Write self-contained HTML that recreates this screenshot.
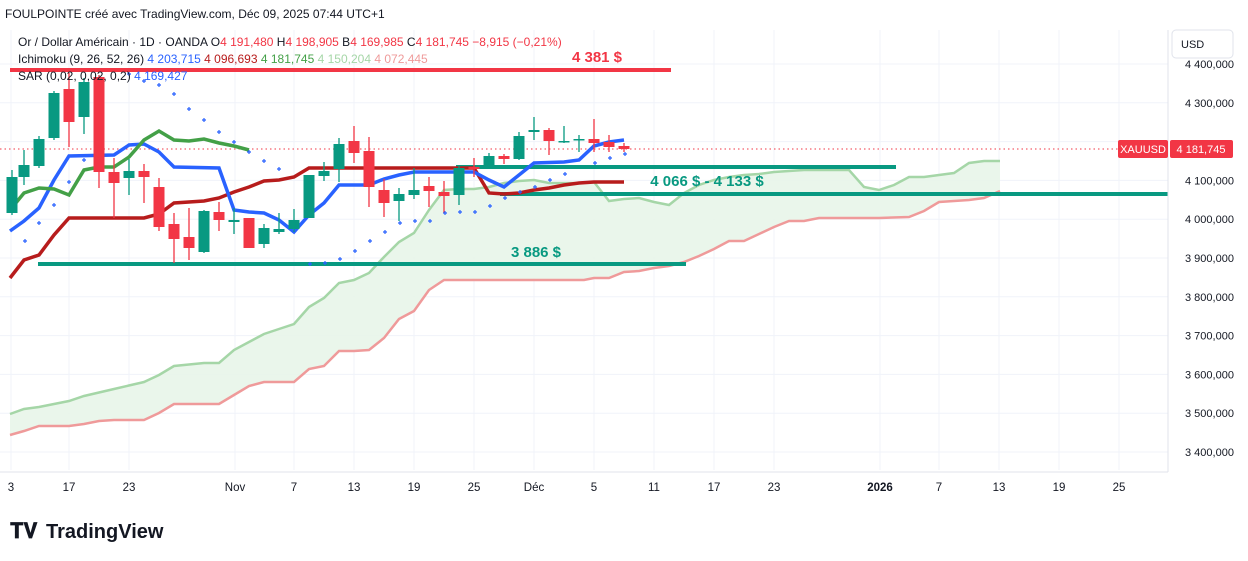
<!DOCTYPE html><html><head><meta charset="utf-8"><style>
body{margin:0;background:#fff;width:1248px;height:561px;overflow:hidden;font-family:"Liberation Sans",sans-serif}
svg{position:absolute;left:0;top:0}
</style></head><body>
<svg id="s" width="1248" height="561" xmlns="http://www.w3.org/2000/svg" font-family="Liberation Sans, sans-serif"></svg>
<script>
const S=document.getElementById('s');let h='';
// grid
const xs=[11,69,129,235,294,354,414,474,534,594,654,714,774,880,939,999,1059,1119];
xs.forEach(x=>h+=`<line x1="${x}" y1="30" x2="${x}" y2="470" stroke="#f0f3fa"/>`);
for(let i=0;i<=10;i++){let y=64+i*38.8;h+=`<line x1="0" y1="${y}" x2="1168" y2="${y}" stroke="#f0f3fa"/>`;}
// cloud
const A=[[10,414],[24,409],[39,407],[69,401],[84,396],[114,389],[144,382],[159,375],[174,366],[204,363],[219,363],[234,350],[249,342],[264,334],[279,329],[294,324],[309,307],[324,298],[339,283],[354,280],[369,273],[384,257],[399,242],[414,233],[429,210],[444,190],[459,189],[474,189],[489,187],[504,183],[519,181],[534,180],[549,183],[579,183],[594,182],[609,201],[624,199],[639,198],[654,202],[669,205],[684,193],[699,185],[714,180],[729,177],[744,175],[759,174],[774,172],[804,170],[849,170],[864,187],[879,190],[894,185],[909,177],[924,177],[939,175],[954,173],[969,163],[984,161],[1000,161]];
const B=[[10,435],[24,431],[39,426],[69,426],[84,424],[99,421],[114,420],[144,420],[159,413],[174,404],[219,404],[234,395],[249,386],[264,382],[294,382],[309,369],[324,366],[339,351],[354,351],[369,350],[384,338],[399,319],[414,311],[429,290],[444,280],[584,280],[594,278],[609,278],[624,272],[639,271],[654,268],[669,266],[684,262],[699,256],[714,249],[729,241],[744,241],[759,234],[774,227],[789,221],[804,221],[819,218],[879,218],[909,217],[924,211],[939,202],[954,201],[969,200],[984,198],[1000,191]];
const P=a=>a.map(p=>p.join(',')).join(' ');
h+=`<polygon points="${P(A)} ${P(B.slice().reverse())}" fill="#e8f5e9" opacity="0.9"/>`;
h+=`<polyline points="${P(A)}" fill="none" stroke="#a5d6a7" stroke-width="2.5"/>`;
h+=`<polyline points="${P(B)}" fill="none" stroke="#ef9a9a" stroke-width="2.5"/>`;
// horizontal levels
h+=`<line x1="10" y1="70" x2="671" y2="70" stroke="#f23645" stroke-width="4"/>`;
h+=`<line x1="456" y1="167" x2="896" y2="167" stroke="#089981" stroke-width="4"/>`;
h+=`<line x1="500" y1="194" x2="1168" y2="194" stroke="#089981" stroke-width="4"/>`;
h+=`<line x1="38" y1="264" x2="686" y2="264" stroke="#089981" stroke-width="4"/>`;
h+=`<line x1="0" y1="149" x2="1168" y2="149" stroke="#f23645" stroke-dasharray="1.5,3"/>`;
// kijun / tenkan / chikou
const K=[[10,278],[24,260],[39,255],[54,235],[69,218],[144,218],[159,214],[174,203],[204,201],[219,198],[234,192],[249,187],[264,181],[279,180],[294,177],[309,168],[474,168],[489,193],[504,194],[519,193],[534,190],[549,188],[564,185],[579,183],[594,182],[624,182]];
h+=`<polyline points="${P(K)}" fill="none" stroke="#b71c1c" stroke-width="3.5"/>`;
const T=[[10,231],[24,221],[39,208],[54,180],[69,156],[114,155],[129,145],[144,144],[159,152],[174,167],[219,168],[234,210],[249,212],[264,213],[279,220],[294,232],[309,215],[324,203],[339,185],[369,185],[384,179],[399,175],[414,172],[474,172],[489,180],[504,187],[519,175],[534,163],[564,162],[579,160],[594,146],[609,142],[624,140]];
h+=`<polyline points="${P(T)}" fill="none" stroke="#2962ff" stroke-width="3.5"/>`;
const C=[[10,210],[24,193],[39,188],[54,189],[69,195],[84,170],[99,167],[114,167],[129,157],[144,140],[159,131],[174,140],[189,141],[204,139],[219,143],[234,146],[249,150]];
h+=`<polyline points="${P(C)}" fill="none" stroke="#43a047" stroke-width="3.5"/>`;
// candles [x, top, bottom, hi, lo, green]
const cd=[[12,177,213,170,215,1],[24,165,177,150,185,1],[39,139,166,136,168,1],[54,93,138,91,140,1],[69,89,122,73,147,0],[84,82,117,78,134,1],[99,77,172,75,188,0],[114,172,183,158,218,0],[129,171,178,159,195,1],[144,171,177,164,203,0],[159,187,227,178,231,0],[174,224,239,213,263,0],[189,237,248,208,260,0],[204,211,252,210,253,1],[219,212,220,202,231,0],[234,220,222,208,234,1],[249,218,248,218,248,0],[264,228,244,224,248,1],[279,229,232,213,234,1],[294,220,229,209,232,1],[309,175,218,175,218,1],[324,171,176,162,181,1],[339,144,169,138,182,1],[354,141,153,126,163,0],[369,151,187,137,207,0],[384,190,203,179,217,0],[399,194,201,188,221,1],[414,190,195,168,199,1],[429,186,191,177,207,0],[444,192,196,181,213,0],[459,168,195,165,205,1],[474,167,169,158,177,0],[489,156,167,153,168,1],[504,156,159,154,164,0],[519,136,159,132,160,1],[534,130,132,117,140,1],[549,130,141,128,155,0],[564,141,142,126,143,1],[579,139,140,135,152,1],[594,139,143,119,152,0],[609,142,147,135,152,0],[624,146,149,143,152,0]];
cd.forEach(c=>{const col=c[5]?'#089981':'#f23645';h+=`<line x1="${c[0]}" y1="${c[3]}" x2="${c[0]}" y2="${c[4]}" stroke="${col}" stroke-width="1.3"/><rect x="${c[0]-5.5}" y="${c[1]}" width="11" height="${Math.max(c[2]-c[1],1.5)}" fill="${col}"/>`;});
// SAR
const sar=[[25,241],[39,223],[54,205],[69,182],[84,160],[129,74],[144,81],[159,85],[174,94],[189,109],[204,120],[219,132],[234,142],[249,152],[264,161],[279,169],[310,264],[325,263],[340,259],[355,251],[370,241],[385,232],[400,223],[415,221],[430,221],[445,213],[460,212],[475,212],[490,206],[505,198],[520,192],[535,187],[550,180],[565,174],[595,163],[610,158],[625,154]];
sar.forEach(p=>h+=`<path d="M${p[0]-2} ${p[1]}h4M${p[0]} ${p[1]-2}v4" stroke="#2962ff" stroke-width="1.2"/>`);
// level labels
h+=`<text x="597" y="62" fill="#f23645" font-size="15" font-weight="bold" text-anchor="middle">4 381 $</text>`;
h+=`<text x="707" y="186" fill="#089981" font-size="15" font-weight="bold" text-anchor="middle">4 066 $ - 4 133 $</text>`;
h+=`<text x="536" y="257" fill="#089981" font-size="15" font-weight="bold" text-anchor="middle">3 886 $</text>`;
// axes
h+=`<line x1="1168" y1="30" x2="1168" y2="472" stroke="#e0e3eb"/><line x1="0" y1="472" x2="1168" y2="472" stroke="#e0e3eb"/>`;
const pl=['4 400,000','4 300,000','4 200,000','4 100,000','4 000,000','3 900,000','3 800,000','3 700,000','3 600,000','3 500,000','3 400,000'];
pl.forEach((t,i)=>{if(i!=2)h+=`<text x="1185" y="${68+i*38.8}" font-size="11" fill="#131722">${t}</text>`;});
h+=`<rect x="1118" y="140" width="50" height="18" fill="#f23645" rx="2"/><text x="1143" y="153" font-size="11" fill="#fff" text-anchor="middle">XAUUSD</text>`;
h+=`<rect x="1170" y="140" width="63" height="18" fill="#f23645" rx="2"/><text x="1201" y="153" font-size="11" fill="#fff" text-anchor="middle">4 181,745</text>`;
h+=`<rect x="1172" y="30" width="61" height="28" rx="4" fill="#fff" stroke="#e0e3eb"/><text x="1181" y="48" font-size="11" fill="#131722">USD</text>`;
const tl=['3','17','23','Nov','7','13','19','25','Déc','5','11','17','23','2026','7','13','19','25'];
tl.forEach((t,i)=>h+=`<text x="${xs[i]}" y="491" font-size="11.5" fill="#131722" text-anchor="middle" ${t=='2026'?'font-weight="bold"':''}>${t}</text>`);
// header
h+=`<text x="5" y="18" font-size="12" fill="#131722">FOULPOINTE créé avec TradingView.com, Déc 09, 2025 07:44 UTC+1</text>`;
h+=`<text x="18" y="46" font-size="12" fill="#131722">Or / Dollar Américain · 1D · OANDA  <tspan>O</tspan><tspan fill="#f23645">4 191,480</tspan> H<tspan fill="#f23645">4 198,905</tspan> B<tspan fill="#f23645">4 169,985</tspan> C<tspan fill="#f23645">4 181,745  −8,915 (−0,21%)</tspan></text>`;
h+=`<text x="18" y="63" font-size="12" fill="#131722">Ichimoku (9, 26, 52, 26)  <tspan fill="#2962ff">4 203,715</tspan>  <tspan fill="#b71c1c">4 096,693</tspan>  <tspan fill="#43a047">4 181,745</tspan>  <tspan fill="#a5d6a7">4 150,204</tspan>  <tspan fill="#ef9a9a">4 072,445</tspan></text>`;
h+=`<text x="18" y="80" font-size="12" fill="#131722">SAR (0,02, 0,02, 0,2)  <tspan fill="#2962ff">4 169,427</tspan></text>`;
// logo
h+=`<text x="10" y="538" font-size="21" font-weight="bold" fill="#131722">𝐓𝐕</text>`;
h+=`<text x="46" y="538" font-size="20" font-weight="bold" fill="#131722">TradingView</text>`;
S.innerHTML=h;
</script>
</body></html>
